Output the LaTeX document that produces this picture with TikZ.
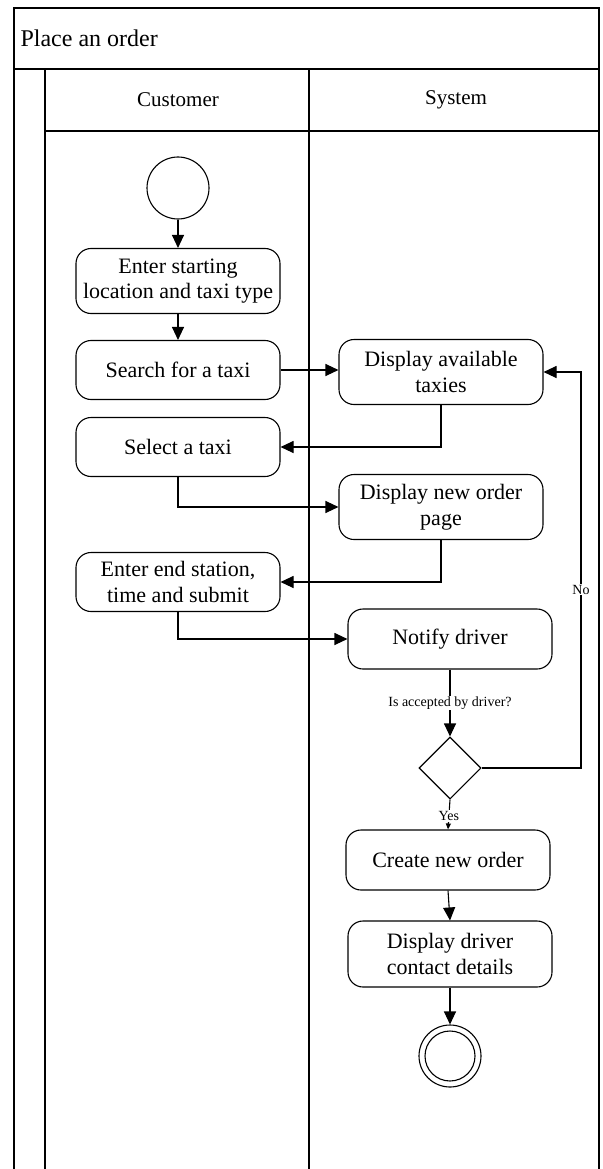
\documentclass[tikz,border=0pt]{standalone}
\usepackage{fontspec}
\setmainfont{Liberation Serif}
\usetikzlibrary{arrows.meta,shapes.geometric}

\tikzset{
  lane/.style={line width=1.6pt},
  action/.style={draw, line width=1.1pt, rounded corners=15pt, align=center,
    minimum width=204pt, minimum height=#1, inner sep=0pt,
    font=\fontsize{22}{25.5}\selectfont},
  action/.default=59pt,
  flow/.style={line width=1.1pt, -{Triangle[length=13pt,width=12pt]}},
  smallflow/.style={line width=1.1pt, -{Triangle[length=6pt,width=5pt]}},
  lbl/.style={font=\fontsize{14}{16}\selectfont, fill=white, inner sep=1pt},
  decision/.style={draw, diamond, line width=1.1pt, minimum width=62pt,
    minimum height=62pt, inner sep=0pt},
}

\begin{document}
\begin{tikzpicture}[x=1pt, y=-1pt]
  \useasboundingbox (0,0) rectangle (602,1169);

  % pool frame, title bar, lanes and headers
  \draw[lane] (14,1169) -- (14,8) -- (599,8) -- (599,1169);
  \draw[lane] (14,69) -- (599,69);
  \draw[lane] (45,69) -- (45,1169);
  \draw[lane] (309,69) -- (309,1169);
  \draw[lane] (45,131) -- (599,131);
  \node[anchor=west, font=\fontsize{24}{28}\selectfont] (title) at (17,38) {Place an order};
  \node[font=\fontsize{21}{25}\selectfont] (hcust) at (178,100) {Customer};
  \node[font=\fontsize{21}{25}\selectfont] (hsys) at (456,100) {System};

  % customer lane
  \node[draw, circle, line width=1.1pt, minimum size=62pt, inner sep=0pt] (start) at (178,188) {};
  \node[action=65pt] (enter) at (178,281) {Enter starting\\location and taxi type};
  \node[action] (search) at (178,370) {Search for a taxi};
  \node[action] (select) at (178,447) {Select a taxi};
  \node[action] (endst) at (178,582) {Enter end station,\\time and submit};

  % system lane
  \node[action=65pt] (avail) at (441,372) {Display available\\taxies};
  \node[action=65pt] (neworder) at (441,507) {Display new order\\page};
  \node[action=60pt] (notify) at (450,639) {Notify driver};
  \node[decision] (accepted) at (450,768) {};
  \node[action=60pt] (create) at (448,860) {Create new order};
  \node[action=66pt] (contact) at (450,954) {Display driver\\contact details};
  \node[draw, circle, line width=1.1pt, minimum size=62pt, inner sep=0pt] (finish) at (450,1056) {};
  \node[draw, circle, line width=1.1pt, minimum size=50pt, inner sep=0pt] (finishin) at (finish) {};

  % control flow
  \draw[flow] (start) -- (enter);
  \draw[flow] (enter) -- (search);
  \draw[flow] (search.east) -- (search.east -| avail.west);
  \draw[flow] (avail.south) |- (select.east);
  \draw[flow] (select.south) |- (neworder.west);
  \draw[flow] (neworder.south) |- (endst.east);
  \draw[flow] (endst.south) |- (notify.west);
  \draw[flow] (notify.south) -- node[lbl] (qlbl) {Is accepted by driver?} (accepted.north);
  \draw[flow] (accepted.east) -- (581,768) -- node[lbl, pos=0.45] (nolbl) {No} (581,372) -- (avail.east);
  \draw[smallflow] (accepted.south) -- node[lbl, pos=0.55] (yeslbl) {Yes} (create.north);
  \draw[flow] (create.south) -- (contact.north);
  \draw[flow] (contact.south) -- (finish.north);
\end{tikzpicture}
\end{document}
